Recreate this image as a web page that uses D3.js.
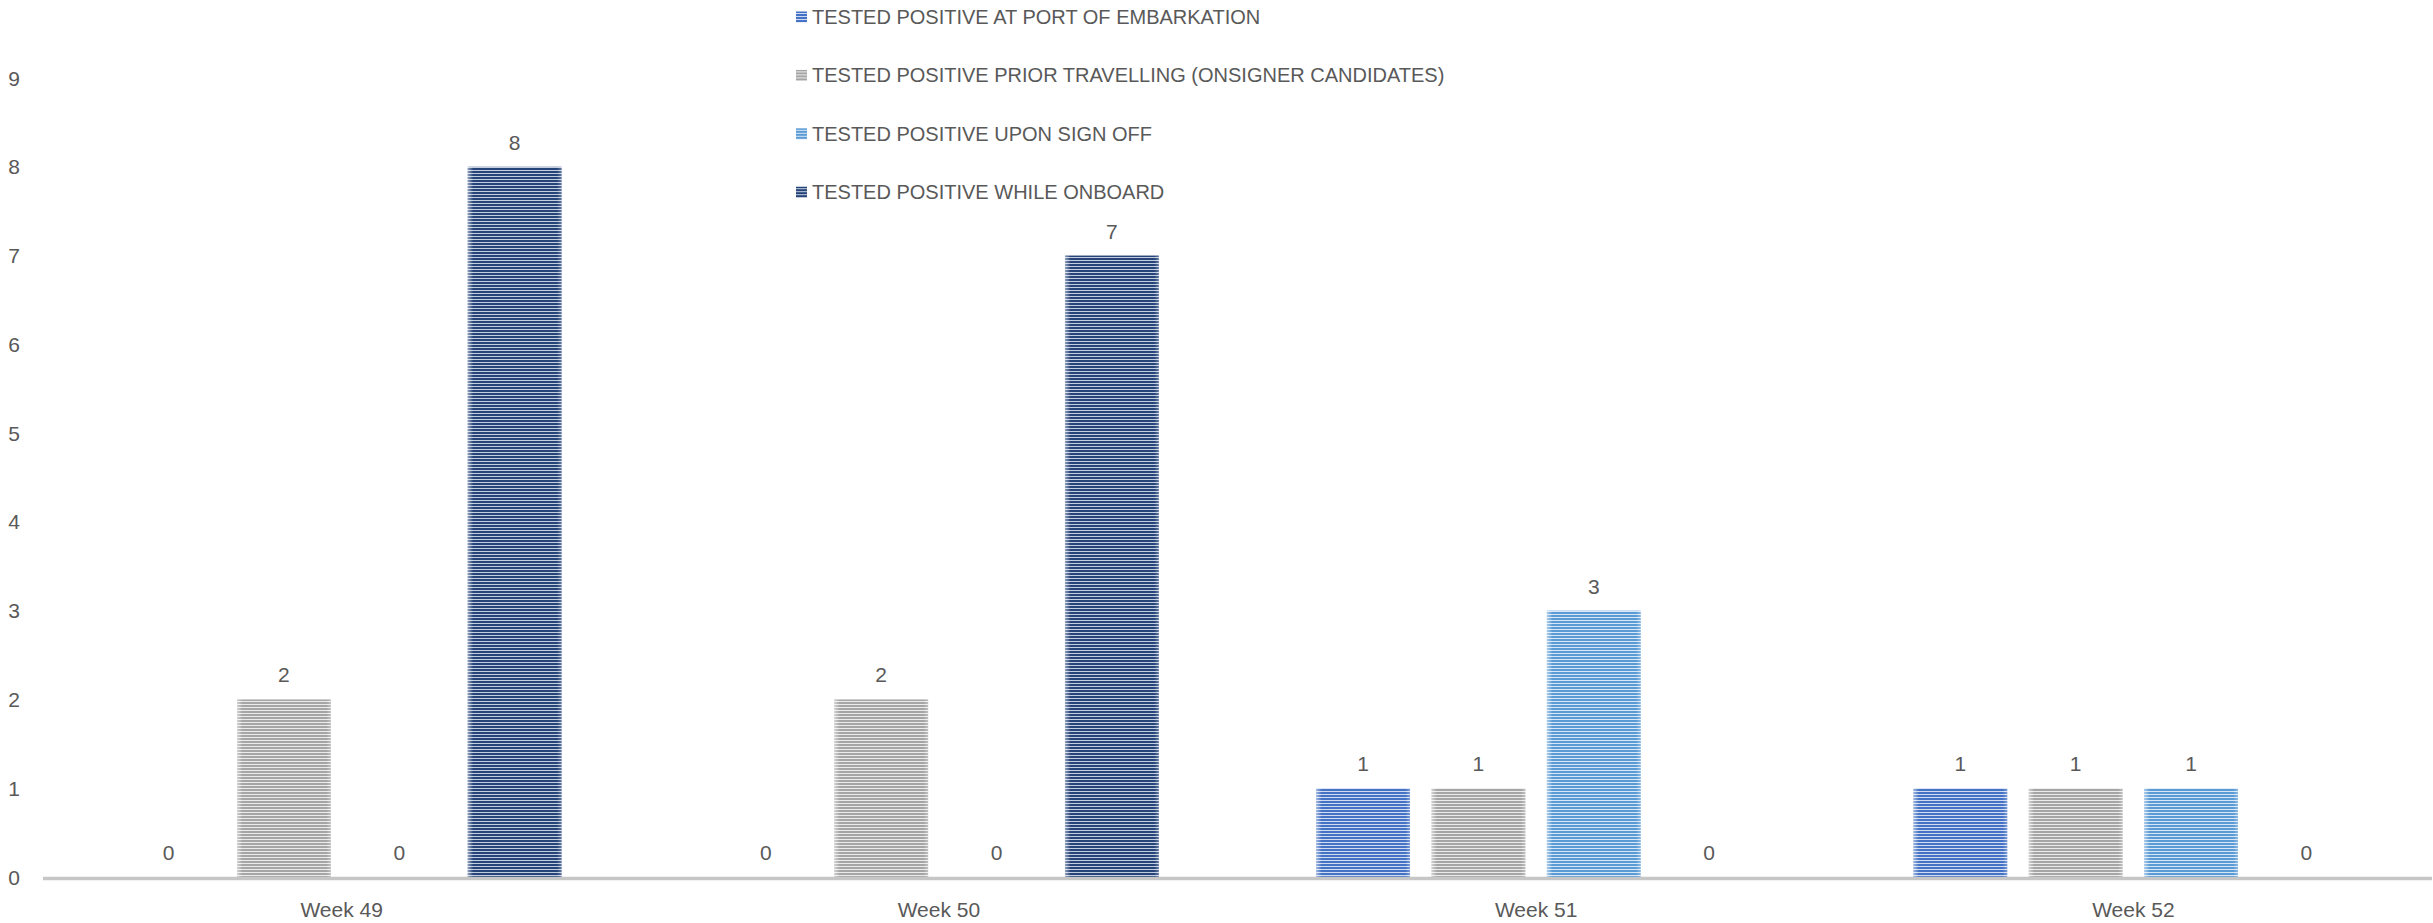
<!DOCTYPE html>
<html>
<head>
<meta charset="utf-8">
<script src="https://cdn.jsdelivr.net/npm/d3@7/dist/d3.min.js"></script>
<style>
  html, body { margin: 0; padding: 0; background: #ffffff; }
  svg { display: block; }
  text { font-family: "Liberation Sans", Arial, sans-serif; fill: #595959; }
</style>
</head>
<body>
<svg id="chart" width="2433" height="923"></svg>
<script>
// Weekly positive cases by point of detection
const weeks = ["Week 49", "Week 50", "Week 51", "Week 52"];
const seriesNames = [
  "TESTED POSITIVE AT PORT OF EMBARKATION",
  "TESTED POSITIVE PRIOR TRAVELLING (ONSIGNER CANDIDATES)",
  "TESTED POSITIVE UPON SIGN OFF",
  "TESTED POSITIVE WHILE ONBOARD"
];
const portOfEmbarkation = [0, 0, 1, 1];
const priorTravelling = [2, 2, 1, 1];
const uponSignOff = [0, 0, 3, 1];
const whileOnboard = [8, 7, 0, 0];
const yTicks = [0, 1, 2, 3, 4, 5, 6, 7, 8, 9];

const seriesValues = [portOfEmbarkation, priorTravelling, uponSignOff, whileOnboard];
const stripeDark = ["#4472C4", "#A5A5A5", "#5B9BD5", "#264478"];
const stripeLight = ["#D2DCF0", "#EBEBEB", "#D8E7F5", "#C3CDE0"];

const svg = d3.select("#chart");
const defs = svg.append("defs");

// Horizontal stripe fill for each series
seriesNames.forEach((s, i) => {
  const p = defs.append("pattern")
    .attr("id", "stripe" + i)
    .attr("patternUnits", "userSpaceOnUse")
    .attr("width", 8).attr("height", 3);
  p.append("rect").attr("width", 8).attr("height", 3).attr("fill", stripeLight[i]);
  p.append("rect").attr("width", 8).attr("height", 2).attr("fill", stripeDark[i]);
});

// Soft highlight along the left and right edges of each bar
const sheen = defs.append("linearGradient").attr("id", "sheen")
  .attr("x1", 0).attr("x2", 1).attr("y1", 0).attr("y2", 0);
[[0, 0.5], [0.06, 0], [0.95, 0], [1, 0.3]].forEach(([o, a]) => {
  sheen.append("stop").attr("offset", o).attr("stop-color", "#ffffff").attr("stop-opacity", a);
});

const x0 = d3.scaleBand().domain(weeks).range([43, 2432]);
const x1 = d3.scaleBand().domain(d3.range(seriesNames.length))
  .range([-220, 220]).paddingInner(0.186);
const y = d3.scaleLinear().domain([0, 9]).range([877, 78]);

// Y tick labels (no gridlines)
svg.append("g").selectAll("text").data(yTicks).join("text")
  .attr("x", 20).attr("y", d => y(d))
  .attr("text-anchor", "end").attr("dominant-baseline", "central")
  .attr("font-size", 21)
  .text(d => d);

// Bars
const records = [];
weeks.forEach((w, wi) => {
  seriesValues.forEach((vals, si) => {
    records.push({ week: w, s: si, v: vals[wi] });
  });
});
const bx = d => x0(d.week) + x0.bandwidth() / 2 + x1(d.s);

const bars = svg.append("g");
bars.selectAll("rect.bar").data(records.filter(d => d.v > 0)).join("rect")
  .attr("class", "bar")
  .attr("x", bx).attr("width", x1.bandwidth())
  .attr("y", d => y(d.v)).attr("height", d => y(0) - y(d.v))
  .attr("fill", d => "url(#stripe" + d.s + ")");
bars.selectAll("rect.sheen").data(records.filter(d => d.v > 0)).join("rect")
  .attr("class", "sheen")
  .attr("x", bx).attr("width", x1.bandwidth())
  .attr("y", d => y(d.v)).attr("height", d => y(0) - y(d.v))
  .attr("fill", "url(#sheen)");

// Category axis line
svg.append("line")
  .attr("x1", x0.range()[0]).attr("x2", x0.range()[1])
  .attr("y1", y(0) + 1.5).attr("y2", y(0) + 1.5)
  .attr("stroke", "#C6C6C6").attr("stroke-width", 3.5);

// Value labels
svg.append("g").selectAll("text").data(records).join("text")
  .attr("x", d => bx(d) + x1.bandwidth() / 2)
  .attr("y", d => y(d.v) - 17)
  .attr("text-anchor", "middle").attr("font-size", 21)
  .text(d => d.v);

// Week labels
svg.append("g").selectAll("text").data(weeks).join("text")
  .attr("x", d => x0(d) + x0.bandwidth() / 2)
  .attr("y", 917)
  .attr("text-anchor", "middle").attr("font-size", 21)
  .text(d => d);

// Legend
const legend = svg.append("g").selectAll("g").data(seriesNames).join("g")
  .attr("transform", (d, i) => `translate(796, ${17 + i * 58.4})`);
legend.append("rect")
  .attr("x", 0).attr("y", -5.5).attr("width", 11).attr("height", 11)
  .attr("fill", (d, i) => "url(#stripe" + i + ")");
legend.append("text")
  .attr("x", 16).attr("y", 0)
  .attr("dominant-baseline", "central").attr("font-size", 20)
  .text(d => d);
</script>
</body>
</html>
